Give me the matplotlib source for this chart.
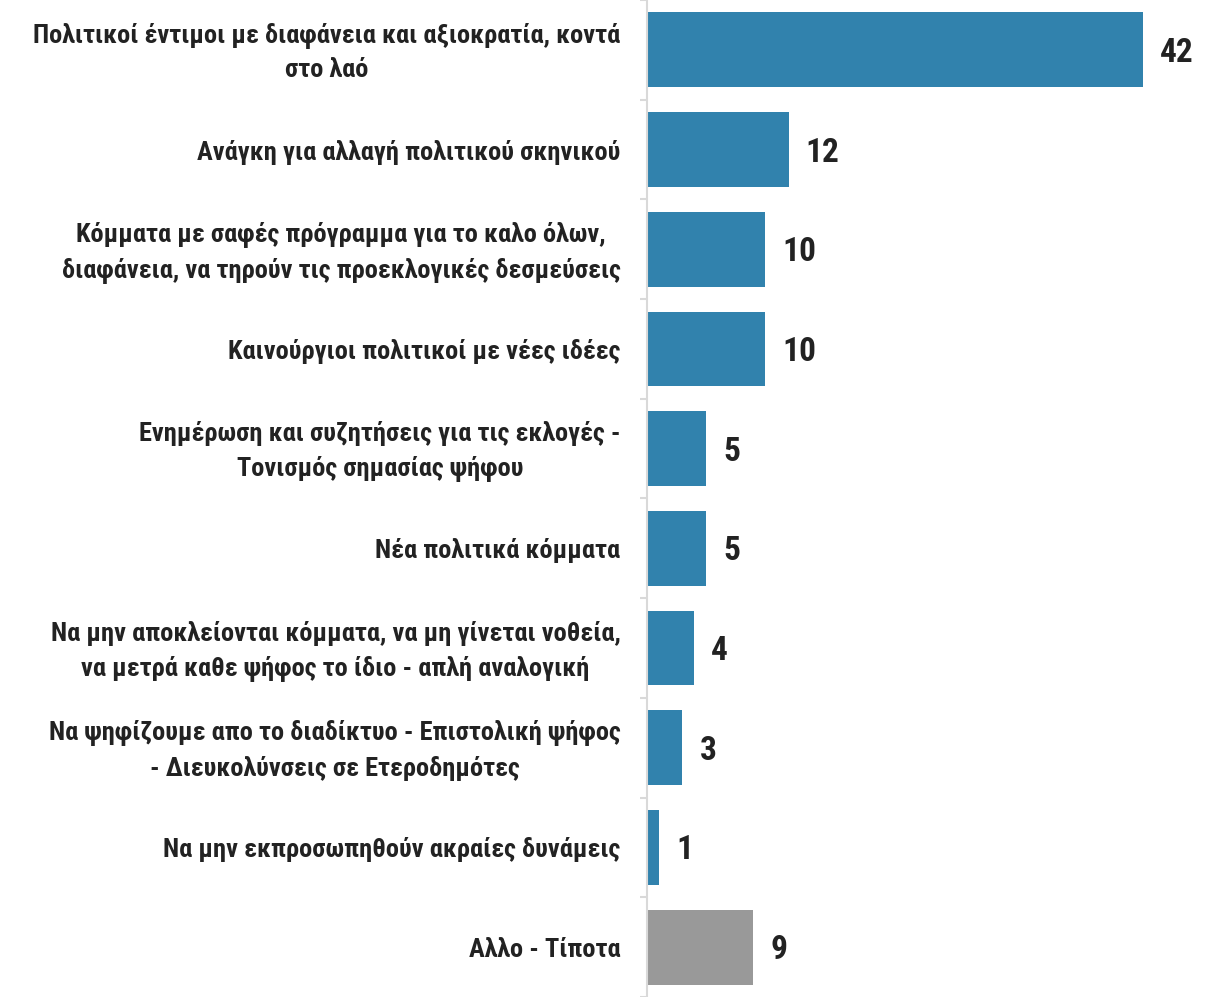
import numpy as np
import matplotlib.pyplot as plt
import matplotlib.transforms as mtransforms

# labels / values (top to bottom)
labels = [
    "Πολιτικοί έντιμοι με διαφάνεια και αξιοκρατία, κοντά\nστο λαό",
    "Ανάγκη για αλλαγή πολιτικού σκηνικού",
    "Κόμματα με σαφές πρόγραμμα για το καλο όλων,\nδιαφάνεια, να τηρούν τις προεκλογικές δεσμεύσεις",
    "Καινούργιοι πολιτικοί με νέες ιδέες",
    "Ενημέρωση και συζητήσεις για τις εκλογές -\nΤονισμός σημασίας ψήφου",
    "Νέα πολιτικά κόμματα",
    "Να μην αποκλείονται κόμματα, να μη γίνεται νοθεία,\nνα μετρά καθε ψήφος το ίδιο - απλή αναλογική",
    "Να ψηφίζουμε απο το διαδίκτυο - Επιστολική ψήφος\n- Διευκολύνσεις σε Ετεροδημότες",
    "Να μην εκπροσωπηθούν ακραίες δυνάμεις",
    "Αλλο - Τίποτα",
]
values = [42, 12, 10, 10, 5, 5, 4, 3, 1, 9]
colors = ["#3182ad"] * 9 + ["#999999"]

plt.rcParams['font.family'] = ['Roboto Condensed', 'DejaVu Sans']
txt_col = "#222222"

fig = plt.figure(figsize=(12.11, 9.97), dpi=100)
ax = fig.add_axes([647 / 1211, 0, 1 - 647 / 1211, 1])

y = np.arange(len(values))
ax.barh(y, values, height=0.75, color=colors, edgecolor="none")
ax.set_ylim(len(values) - 0.5, -0.5)
ax.set_xlim(0, 47.76)

for yi, v in zip(y, values):
    ax.text(v + 1.45, yi + 0.03, str(v), va="center", ha="left",
            fontsize=24, fontweight="bold", color=txt_col)

ax.set_yticks(y)
ax.set_yticklabels(labels, fontsize=19, fontweight="bold", color=txt_col,
                   multialignment="center", linespacing=1.5)
ax.tick_params(axis="y", which="major", length=0, pad=19)
ax.set_yticks(np.arange(-0.5, len(values)), minor=True)
ax.tick_params(axis="y", which="minor", length=5, width=1.5, color="#d9d9d9")
ax.set_xticks([])

# two-line labels sit a bit high in the original
shift = mtransforms.ScaledTranslation(0, 0.05, fig.dpi_scale_trans)
for lab in ax.get_yticklabels():
    if "\n" in lab.get_text():
        lab.set_transform(lab.get_transform() + shift)

for s in ["top", "right", "bottom"]:
    ax.spines[s].set_visible(False)
ax.spines["left"].set_color("#d9d9d9")
ax.spines["left"].set_linewidth(1.5)

fig.savefig("out.png", dpi=100)
